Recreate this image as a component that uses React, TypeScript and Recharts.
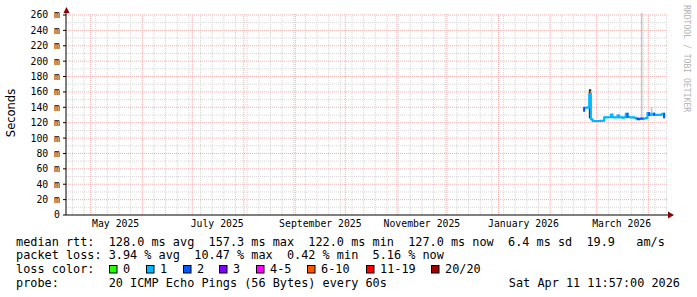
import React from 'react';
import { ComposedChart, Line, Area, XAxis, YAxis, ReferenceLine } from 'recharts';

// ---------- data ----------
const DATES = [
  '2026-02-21', '2026-02-22', '2026-02-23', '2026-02-24', '2026-02-25', '2026-02-26', '2026-02-27', '2026-02-28',
  '2026-03-01', '2026-03-02', '2026-03-03', '2026-03-04', '2026-03-05', '2026-03-06', '2026-03-07', '2026-03-08',
  '2026-03-09', '2026-03-10', '2026-03-11', '2026-03-12', '2026-03-13', '2026-03-14', '2026-03-15', '2026-03-16',
  '2026-03-17', '2026-03-18', '2026-03-19', '2026-03-20', '2026-03-21', '2026-03-22', '2026-03-23', '2026-03-24',
  '2026-03-25', '2026-03-26', '2026-03-27', '2026-03-28', '2026-03-29', '2026-03-30', '2026-03-31', '2026-04-01',
  '2026-04-02', '2026-04-03', '2026-04-04', '2026-04-05', '2026-04-06', '2026-04-07', '2026-04-08', '2026-04-09',
  '2026-04-10', '2026-04-11',
];
// median rtt in ms
const MEDIAN_MS = [
  135.5, 139.5, 139.5, 140.0, 157.3, 124.5, 122.3, 122.3,
  122.0, 122.3, 122.3, 122.5, 122.5, 127.0, 126.8, 127.0,
  127.2, 130.5, 127.0, 126.8, 127.0, 129.5, 126.8, 127.0,
  126.5, 127.0, 131.5, 127.5, 127.0, 126.8, 127.0, 126.5,
  125.5, 124.5, 125.0, 125.5, 125.0, 125.5, 126.0, 132.5,
  130.0, 130.5, 131.5, 130.2, 130.0, 130.3, 130.0, 130.5,
  131.5, 127.0,
];
// loss bucket index (into LOSS_LABELS / LOSS_COLORS)
const LOSS_BUCKET = [
  2, 1, 1, 1, 1, 1, 1, 1,
  1, 1, 1, 1, 1, 1, 1, 1,
  1, 1, 1, 1, 1, 1, 1, 1,
  1, 1, 2, 1, 1, 1, 1, 1,
  2, 2, 2, 2, 1, 1, 1, 2,
  1, 1, 2, 1, 1, 1, 1, 1,
  2, 1,
];
const DARK_SMOKE_DAYS = ['2026-02-25'];
const DARK_SMOKE_RANGE: [number, number][] = [[126, 163]];
const LIGHT_SMOKE_DAYS = ['2026-03-28', '2026-04-03'];
const LIGHT_SMOKE_RANGE: [number, number][] = [[124, 280], [130, 140]];

const LOSS_LABELS = ['0', '1', '2', '3', '4-5', '6-10', '11-19', '20/20'];
const LOSS_COLORS = ['#26ff00', '#00b8ff', '#0059ff', '#7e00ff', '#ff00ff', '#ff5500', '#ff0000', '#a00000'];

const X_LABEL_MONTHS = ['2025-05', '2025-07', '2025-09', '2025-11', '2026-01', '2026-03'];
const MONTH_NAMES = ['January', 'February', 'March', 'April', 'May', 'June', 'July', 'August', 'September', 'October', 'November', 'December'];
const Y_TICKS = [0, 20, 40, 60, 80, 100, 120, 140, 160, 180, 200, 220, 240, 260];
const Y_MINOR = [10, 30, 50, 70, 90, 110, 130, 150, 170, 190, 210, 230, 250];

const LINE_RTT = 'median rtt:  128.0 ms avg  157.3 ms max  122.0 ms min  127.0 ms now  6.4 ms sd  19.9   am/s';
const LINE_LOSS = 'packet loss: 3.94 % avg  10.47 % max  0.42 % min  5.16 % now';
const LINE_COLOR = 'loss color:';
const LINE_PROBE = 'probe:       20 ICMP Echo Pings (56 Bytes) every 60s';
const DATE_STAMP = 'Sat Apr 11 11:57:00 2026';
const WATERMARK = 'RRDTOOL / TOBI OETIKER';

// ---------- derived ----------
const day = (s: string) => Date.parse(s + 'T00:00:00Z');
const X_START = Date.UTC(2025, 3, 16, 4);
const X_END = Date.UTC(2026, 3, 12, 20);
const Y_MAX = 262.6;

const rows = DATES.map((d, i) => {
  const row: any = { t: day(d), median: MEDIAN_MS[i] };
  const di = DARK_SMOKE_DAYS.indexOf(d);
  row.darkSmoke = di >= 0 ? DARK_SMOKE_RANGE[di] : [MEDIAN_MS[i], MEDIAN_MS[i]];
  const li = LIGHT_SMOKE_DAYS.indexOf(d);
  row.lightSmoke = li >= 0 ? LIGHT_SMOKE_RANGE[li] : [MEDIAN_MS[i], MEDIAN_MS[i]];
  LOSS_COLORS.forEach((_, c) => {
    const on = LOSS_BUCKET[i] === c || (i > 0 && LOSS_BUCKET[i - 1] === c);
    row['l' + c] = on ? MEDIAN_MS[i] : null;
  });
  return row;
});
const usedBuckets = LOSS_COLORS.map((_, c) => c).filter((c) => LOSS_BUCKET.includes(c));

const monthStarts: number[] = [];
for (let y = 2025, m = 4; y < 2026 || m <= 3; ) {
  monthStarts.push(Date.UTC(y, m, 1));
  m++;
  if (m > 11) { m = 0; y++; }
}
const weekLines: number[] = [];
for (let t = Date.UTC(2025, 3, 20); t < X_END; t += 7 * 86400000) {
  if (!monthStarts.includes(t)) weekLines.push(t);
}
const labelTicks = X_LABEL_MONTHS.map((s) => Date.parse(s + '-16T00:00:00Z'));
const fmtMonth = (v: number) => {
  const d = new Date(v);
  return `${MONTH_NAMES[d.getUTCMonth()]} ${d.getUTCFullYear()}`;
};
const pre = (s: string) => s.replace(/ /g, '\u00a0');

const MONO = "'DejaVu Sans Mono', monospace";
const GRID_MINOR = '#d6d6d6';
const GRID_MAJOR = '#f2b0b0';

export default function App() {
  const legendY = 269.3;
  const boxX = [109, 146, 183, 219, 256, 307, 366, 431];
  return (
    <div style={{ position: 'absolute', left: 0, top: 0, width: 697, height: 297, background: '#fff' }}>
      <ComposedChart width={697} height={297} data={rows} margin={{ top: 13, right: 29, bottom: 62, left: 0 }}>
        <XAxis
          dataKey="t"
          type="number"
          domain={[X_START, X_END]}
          allowDataOverflow
          ticks={labelTicks}
          interval={0}
          tickFormatter={fmtMonth}
          tick={{ fontFamily: MONO, fontSize: 9.8, fill: '#000' }}
          tickLine={false}
          tickSize={3}
          tickMargin={2}
          axisLine={{ stroke: '#000' }}
          height={20}
        />
        <YAxis
          type="number"
          domain={[0, Y_MAX]}
          allowDataOverflow
          ticks={Y_TICKS}
          interval={0}
          tickFormatter={(v: number) => (v === 0 ? '0' : `${v} m`)}
          tick={{ fontFamily: MONO, fontSize: 9.8, fill: '#000' }}
          tickLine={{ stroke: '#000' }}
          tickSize={3}
          tickMargin={3}
          axisLine={{ stroke: '#000' }}
          width={66}
        />
        {Y_MINOR.map((v) => (
          <ReferenceLine key={'ym' + v} y={v} stroke={GRID_MINOR} strokeDasharray="1 1" />
        ))}
        {weekLines.map((t) => (
          <ReferenceLine key={'xm' + t} x={t} stroke={GRID_MINOR} strokeDasharray="1 1" />
        ))}
        {Y_TICKS.filter((v) => v > 0).map((v) => (
          <ReferenceLine key={'yM' + v} y={v} stroke={GRID_MAJOR} strokeDasharray="1 1" />
        ))}
        {monthStarts.map((t) => (
          <ReferenceLine key={'xM' + t} x={t} stroke={GRID_MAJOR} strokeDasharray="1 1" />
        ))}
        <Area dataKey="lightSmoke" type="step" stroke="none" fill="#c8c8c8" fillOpacity={1} isAnimationActive={false} dot={false} activeDot={false} />
        {usedBuckets.map((c) => (
          <Line
            key={'l' + c}
            dataKey={'l' + c}
            type="step"
            stroke={LOSS_COLORS[c]}
            strokeWidth={2}
            dot={false}
            activeDot={false}
            connectNulls={false}
            isAnimationActive={false}
          />
        ))}
        <Area dataKey="darkSmoke" type="step" stroke="#1a1a1a" strokeWidth={0.6} fill="#1a1a1a" fillOpacity={1} isAnimationActive={false} dot={false} activeDot={false} />
      </ComposedChart>
      <svg width={697} height={297} style={{ position: 'absolute', left: 0, top: 0, pointerEvents: 'none' }}>
        <polygon points="63.5,13 69.5,13 66.5,7" fill="#8b0000" />
        <polygon points="668,211.5 668,218.5 674,215" fill="#8b0000" />
        <text x={11} y={113} transform="rotate(-90 11 113)" textAnchor="middle" dominantBaseline="central"
          fontFamily="'DejaVu Sans', sans-serif" fontSize={11.5} fill="#000">Seconds</text>
        <text x={687} y={5} transform="rotate(90 687 5)" dominantBaseline="central"
          fontFamily={MONO} fontSize={8.1} fill="#b4b4b4">{WATERMARK}</text>
        <g fontFamily={MONO} fontSize={11.85} fill="#000">
          <text x={16} y={241.7} dominantBaseline="central">{pre(LINE_RTT)}</text>
          <text x={16} y={255.3} dominantBaseline="central">{pre(LINE_LOSS)}</text>
          <text x={16} y={legendY} dominantBaseline="central">{pre(LINE_COLOR)}</text>
          {LOSS_LABELS.map((lab, i) => (
            <g key={lab}>
              <rect x={boxX[i] + 0.5} y={legendY - 3.8} width={7.5} height={7.5} fill={LOSS_COLORS[i]} stroke="#000" strokeWidth={1} />
              <text x={boxX[i] + 14} y={legendY} dominantBaseline="central">{lab}</text>
            </g>
          ))}
          <text x={16} y={283.3} dominantBaseline="central">{pre(LINE_PROBE)}</text>
          <text x={680} y={283.3} textAnchor="end" dominantBaseline="central">{DATE_STAMP}</text>
        </g>
      </svg>
    </div>
  );
}
